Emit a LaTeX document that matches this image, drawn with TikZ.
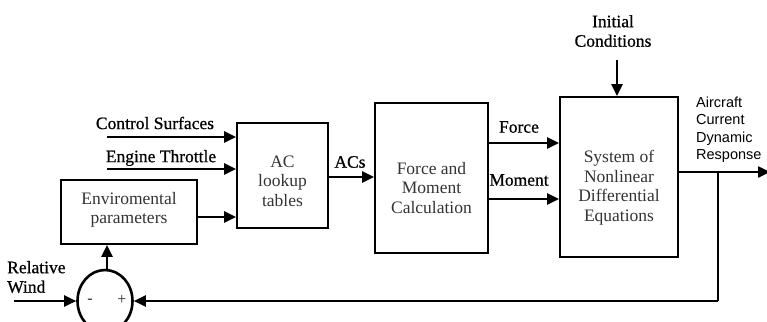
\documentclass[tikz,border=0pt]{standalone}
\usepackage{fontspec}
\setmainfont{Liberation Serif}
\newfontfamily\labelserif{Liberation Serif}[FakeBold=0.7]
\newfontfamily\labelsans{Liberation Sans}
\usetikzlibrary{arrows.meta,shapes.geometric}

\tikzset{
  blockbox/.style={draw, line width=1.9pt, inner sep=0pt},
  lbl/.style={font=\labelserif\fontsize{17.5}{19.5}\selectfont, inner sep=0pt, align=center},
  boxtext/.style={font=\fontsize{17.5}{19.5}\selectfont, inner sep=0pt, align=center, text=black!80},
  sanslbl/.style={font=\labelsans\fontsize{14.5}{17.5}\selectfont, inner sep=0pt, align=left},
  sig/.style={line width=2.4pt, -{Triangle[length=12pt,width=11pt]}},
  wire/.style={line width=2.4pt},
}

\begin{document}
\begin{tikzpicture}[x=1pt,y=-1pt]
  \useasboundingbox (0,0) rectangle (767,321);

  % blocks
  \node[blockbox, minimum width=136pt, minimum height=64pt] (env) at (129,212) {};
  \node[boxtext] (envtxt) at (129,210) {Enviromental\\parameters};
  \node[blockbox, minimum width=91pt, minimum height=105pt] (ac) at (282.5,175.5) {};
  \node[boxtext] (actxt) at (282.5,181) {AC\\lookup\\tables};
  \node[blockbox, minimum width=113pt, minimum height=150pt] (fm) at (431.5,178) {};
  \node[boxtext] (fmtxt) at (431.5,188) {Force and\\Moment\\Calculation};
  \node[blockbox, minimum width=118pt, minimum height=160pt] (sys) at (619,177) {};
  \node[boxtext] (systxt) at (619,187.5) {System of\\Nonlinear\\Differential\\Equations};

  % summing junction
  \node[draw, ellipse, line width=2.6pt, minimum width=55pt, minimum height=62pt, inner sep=0pt] (sum) at (105,301) {};
  \node[boxtext, text=black!85, font=\fontsize{16}{16}\selectfont] (minus) at (90,301) {-};
  \node[boxtext, text=black!85, font=\fontsize{16}{16}\selectfont] (plus) at (122,299.5) {+};

  % signal labels
  \node[lbl] (cs) at (155,123) {Control Surfaces};
  \node[lbl] (et) at (161,158) {Engine Throttle};
  \node[lbl, anchor=west, align=left] (rw) at (7,277) {Relative\\Wind};
  \node[lbl] (ic) at (613,31) {Initial\\Conditions};
  \node[lbl] (acs) at (350,162) {ACs};
  \node[lbl] (force) at (519,127) {Force};
  \node[lbl] (moment) at (519,180) {Moment};
  \node[sanslbl, anchor=west] (resp) at (696,129.5) {Aircraft\\Current\\Dynamic\\Response};

  % free ends of the lines
  \coordinate (csin) at (107,137);
  \coordinate (etin) at (107,169);
  \coordinate (rwin) at (14,301);
  \coordinate (icin) at (617,60);
  \coordinate (outend) at (770,172);
  \coordinate (tap) at (718,172);
  \coordinate (tapdown) at (718,301);

  % signal paths
  \draw[sig] (csin) -- (csin -| ac.west);
  \draw[sig] (etin) -- (etin -| ac.west);
  \draw[sig] (env.east |- 0,217) -- (ac.west |- 0,217);
  \draw[sig] (ac.east |- 0,177) -- (fm.west |- 0,177);
  \draw[sig] (fm.east |- 0,143) -- (sys.west |- 0,143);
  \draw[sig] (fm.east |- 0,199) -- (sys.west |- 0,199);
  \draw[sig] (icin) -- (icin |- sys.north);
  \draw[sig] (sys.east |- tap) -- (outend);
  \draw[wire] (tap) -- (tapdown);
  \draw[sig] (tapdown) -- (sum.east);
  \draw[sig] (rwin) -- (sum.west);
  \draw[sig] (sum.north -| 107,0) -- (107,0 |- env.south);
\end{tikzpicture}
\end{document}
